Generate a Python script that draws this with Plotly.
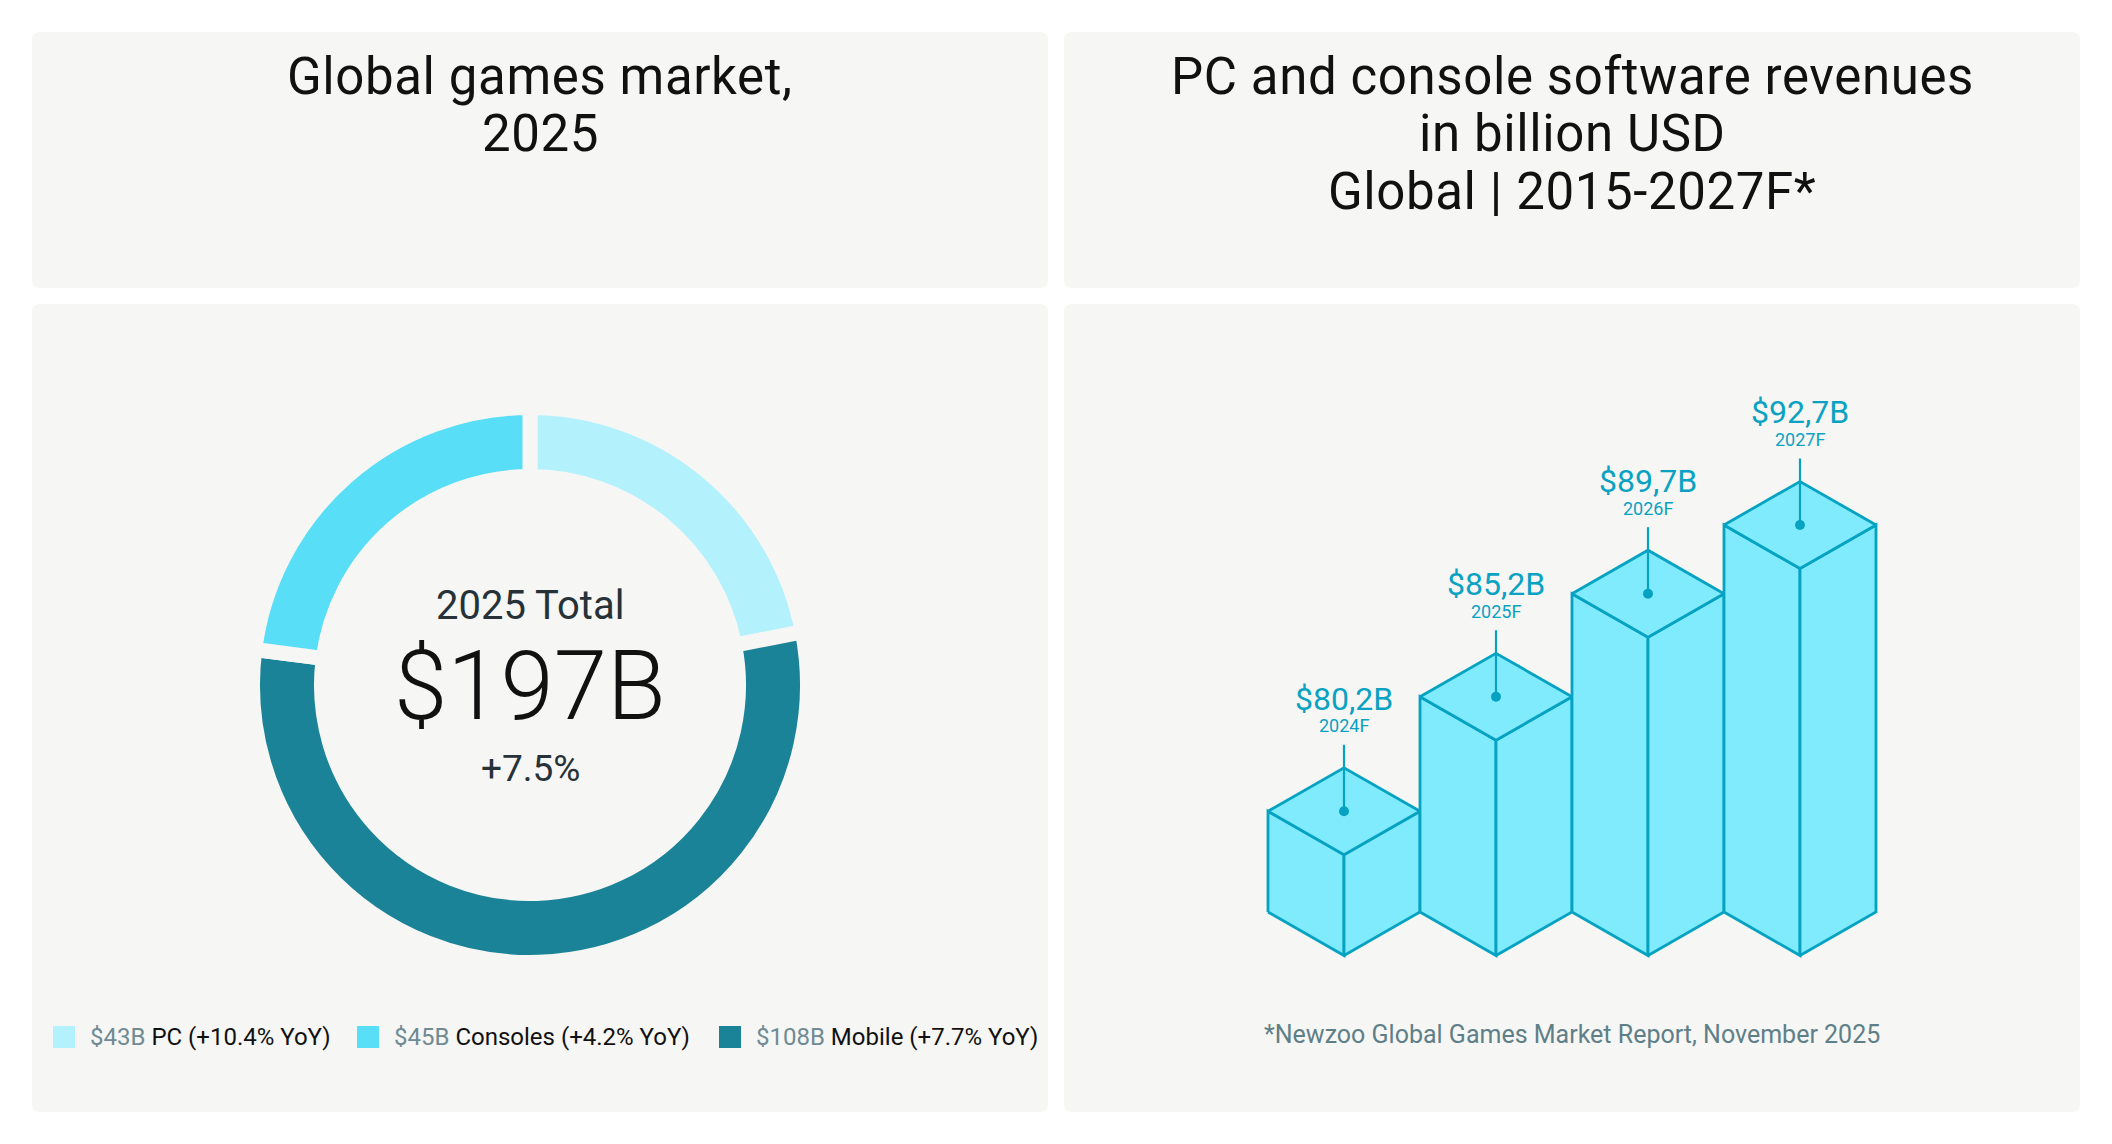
import plotly.graph_objects as go

# ---------------- data ----------------
segments = ["PC", "Consoles", "Mobile"]
segment_values = [43, 45, 108]
segment_yoy = ["+10.4%", "+4.2%", "+7.7%"]
segment_colors = ["#b3f1fd", "#58def7", "#1b8397"]
total_year = "2025 Total"
total_label = "$197B"
total_growth = "+7.5%"

years = ["2024F", "2025F", "2026F", "2027F"]
revenues = [80.2, 85.2, 89.7, 92.7]

left_title = ["Global games market,", "2025"]
right_title = ["PC and console software revenues", "in billion USD", "Global | 2015-2027F*"]
footnote = "*Newzoo Global Games Market Report, November 2025"

# ---------------- layout helpers ----------------
W, H = 2112, 1144
FONT = "Roboto"
PANEL = "#f6f6f4"
CUBE_FILL = "#80ebfd"
CUBE_LINE = "#06a2c2"
LABEL_C = "#0aa2c2"


def px(x):
    return x / W


def py(y):
    return 1 - y / H


def rrect(x0, y0, x1, y1, r=8):
    def p(x, y):
        return f"{px(x)},{py(y)}"
    return (f"M {p(x0 + r, y0)} L {p(x1 - r, y0)} Q {p(x1, y0)} {p(x1, y0 + r)} "
            f"L {p(x1, y1 - r)} Q {p(x1, y1)} {p(x1 - r, y1)} "
            f"L {p(x0 + r, y1)} Q {p(x0, y1)} {p(x0, y1 - r)} "
            f"L {p(x0, y0 + r)} Q {p(x0, y0)} {p(x0 + r, y0)} Z")


fig = go.Figure()

shapes = []
for (x0, y0, x1, y1) in [(32, 32, 1048, 288), (1064, 32, 2080, 288),
                         (32, 304, 1048, 1112), (1064, 304, 2080, 1112)]:
    shapes.append(dict(type="path", xref="paper", yref="paper", path=rrect(x0, y0, x1, y1),
                       fillcolor=PANEL, line=dict(width=0), layer="below"))

annotations = []


def ann(text, x, y, size, color="#111111", weight=400, xanchor="center", yanchor="middle"):
    annotations.append(dict(text=text, x=x, y=y, xref="paper", yref="paper",
                            showarrow=False, xanchor=xanchor, yanchor=yanchor,
                            font=dict(family=FONT, size=size, color=color, weight=weight)))


# titles: one annotation per line, evenly spaced
TITLE_SIZE = 51
TITLE_STEP = 57
for k, line in enumerate(left_title):
    ann(f"<span style='letter-spacing:0.6px'>{line}</span>", px(540), py(77 + TITLE_STEP * k), TITLE_SIZE)
for k, line in enumerate(right_title):
    ann(f"<span style='letter-spacing:0.6px'>{line}</span>", px(1572), py(77 + TITLE_STEP * k), TITLE_SIZE)

# ---------------- donut ----------------
gap = 15
R = 270 + gap / 2
cx, cy = 530, 685
order = [0, 2, 1]  # clockwise from 12 o'clock: PC, Mobile, Consoles
fig.add_trace(go.Pie(
    labels=[segments[k] for k in order],
    values=[segment_values[k] for k in order],
    marker=dict(colors=[segment_colors[k] for k in order], line=dict(color=PANEL, width=gap)),
    hole=(216 - gap / 2) / R,
    sort=False, direction="clockwise", rotation=0,
    textinfo="none", hoverinfo="skip", showlegend=False,
    domain=dict(x=[px(cx - R), px(cx + R)], y=[py(cy + R), py(cy - R)]),
))

ann(total_year, px(cx), py(605), 40, color="#263238")
ann(total_label, px(cx), py(686), 96, color="#111111", weight=300)
ann(total_growth, px(cx), py(768), 37, color="#263238")

# legend
sq_x = [53, 357, 719]
for k in range(len(segments)):
    x0 = sq_x[k]
    shapes.append(dict(type="rect", xref="paper", yref="paper",
                       x0=px(x0), x1=px(x0 + 22), y0=py(1048), y1=py(1026),
                       fillcolor=segment_colors[k], line=dict(width=0)))
    ann(f"<span style='color:#6f8b93'>${segment_values[k]}B</span> {segments[k]} ({segment_yoy[k]} YoY)",
        px(x0 + 35), py(1037), 24, color="#111111", xanchor="left")

# ---------------- isometric bars ----------------
a = 22.9        # px per billion
base = 75.8     # value drawn at the bottom of the side edges
base_px = 912
unit_px = 152
x_center0 = 1344
d = 43.5 / a    # half-height of the top diamond, in value units
lead = 23 / a

r0 = -(x_center0 - 1064) / unit_px
r1 = r0 + (2080 - 1064) / unit_px
y_lo = base - (1112 - base_px) / a
y_hi = base + (base_px - 304) / a

for i, v in enumerate(revenues):
    faces = [
        ([i - 0.5, i, i, i - 0.5, i - 0.5], [base, base - d, v - d, v, base]),
        ([i, i + 0.5, i + 0.5, i, i], [base - d, base, v, v - d, base - d]),
        ([i - 0.5, i, i + 0.5, i, i - 0.5], [v, v + d, v, v - d, v]),
    ]
    for fx, fy in faces:
        fig.add_trace(go.Scatter(x=fx, y=fy, mode="lines", fill="toself", fillcolor=CUBE_FILL,
                                 line=dict(color=CUBE_LINE, width=2.8), hoverinfo="skip",
                                 showlegend=False, xaxis="x", yaxis="y"))
    fig.add_trace(go.Scatter(x=[i, i], y=[v, v + d + lead], mode="lines",
                             line=dict(color=CUBE_LINE, width=2.2), hoverinfo="skip",
                             showlegend=False))
    fig.add_trace(go.Scatter(x=[i], y=[v], mode="markers",
                             marker=dict(color=CUBE_LINE, size=10), hoverinfo="skip",
                             showlegend=False))
    val_txt = f"${v:.1f}B".replace(".", ",")
    annotations.append(dict(text=val_txt, x=i, y=v + d, xref="x", yref="y", yshift=69,
                            showarrow=False, yanchor="middle",
                            font=dict(family=FONT, size=32, color=LABEL_C)))
    annotations.append(dict(text=years[i], x=i, y=v + d, xref="x", yref="y", yshift=42,
                            showarrow=False, yanchor="middle",
                            font=dict(family=FONT, size=18, color=LABEL_C)))

ann(footnote, px(1572), py(1034), 25, color="#5f7f88")

fig.update_layout(
    width=W, height=H, margin=dict(l=0, r=0, t=0, b=0),
    paper_bgcolor="#ffffff", plot_bgcolor="rgba(0,0,0,0)",
    xaxis=dict(domain=[px(1064), px(2080)], range=[r0, r1], visible=False, fixedrange=True),
    yaxis=dict(domain=[py(1112), py(304)], range=[y_lo, y_hi], visible=False, fixedrange=True),
    shapes=shapes, annotations=annotations, showlegend=False,
)

fig.write_html("out.html")
